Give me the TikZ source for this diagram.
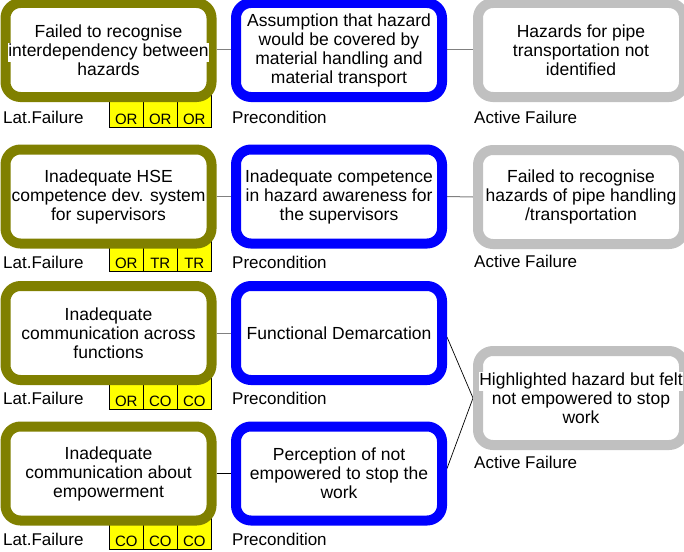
\documentclass[tikz,border=0pt]{standalone}
\usepackage{fontspec}
\setmainfont{Liberation Sans}
\usetikzlibrary{backgrounds}
\definecolor{latolive}{HTML}{808000}
\definecolor{preblue}{HTML}{0000FF}
\definecolor{actgrey}{HTML}{C0C0C0}
\definecolor{linkgrey}{HTML}{808080}
\definecolor{cellyellow}{HTML}{FFFF00}
% a text line that overhangs the frame keeps a white backing
\newcommand\wideline[1]{{\setlength{\fboxsep}{0pt}\colorbox{white}{\strut #1}}}

\begin{document}
\begin{tikzpicture}[x=1pt,y=-1pt,
  box/.style={rounded corners=15pt, line width=10pt, fill=white, align=center,
    inner sep=0pt, minimum width=206pt, minimum height=94pt,
    font=\fontsize{17.5}{19}\selectfont, text=black},
  latbox/.style={box, draw=latolive},
  prebox/.style={box, draw=preblue},
  actbox/.style={box, draw=actgrey},
  tag/.style={anchor=base west, inner sep=0pt, font=\fontsize{17}{19}\selectfont},
  cell/.style={draw=black, line width=0.6pt, fill=cellyellow, minimum width=34pt,
    minimum height=34pt, inner sep=0pt, anchor=south west, text height=28pt,
    text depth=0pt, font=\fontsize{15}{17}\selectfont},
  link/.style={draw=linkgrey, line width=1pt},
  blacklink/.style={draw=black, line width=0.7pt}]

\useasboundingbox (0,0) rectangle (684,551);
\clip (0,0) rectangle (684,551);

% classification cells under each latent failure
\node[cell] (c1a) at (109,128) {OR};
\node[cell] (c1b) at (143,128) {OR};
\node[cell] (c1c) at (177,128) {OR};
\node[cell] (c2a) at (109,272) {OR};
\node[cell] (c2b) at (143,272) {TR};
\node[cell] (c2c) at (177,272) {TR};
\node[cell] (c3a) at (109,410) {OR};
\node[cell] (c3b) at (143,410) {CO};
\node[cell] (c3c) at (177,410) {CO};
\node[cell] (c4a) at (109,550) {CO};
\node[cell] (c4b) at (143,550) {CO};
\node[cell] (c4c) at (177,550) {CO};

% latent failures
\node[latbox] (l1) at (108.5,50) {Failed to recognise\\\wideline{interdependency between}\\hazards};
\node[latbox] (l2) at (108.5,196.5) {Inadequate HSE\\\wideline{competence dev. system}\\for supervisors};
\node[latbox] (l3) at (108.5,333) {Inadequate\\communication across\\functions};
\node[latbox] (l4) at (108.5,473.5) {Inadequate\\communication about\\empowerment};

% preconditions
\node[prebox] (p1) at (339,50) {Assumption that hazard\\would be covered by\\material handling and\\material transport};
\node[prebox] (p2) at (339,196.5) {Inadequate competence\\in hazard awareness for\\the supervisors};
\node[prebox] (p3) at (339,333) {Functional Demarcation};
\node[prebox] (p4) at (339,473.5) {Perception of not\\empowered to stop the\\work};

% active failures
\node[actbox] (a1) at (581,50) {Hazards for pipe\\transportation not\\identified};
\node[actbox] (a2) at (581,197) {Failed to recognise\\hazards of pipe handling\\/transportation};
\node[actbox] (a3) at (581,398) {\wideline{Highlighted hazard but felt}\\not empowered to stop\\work};

% captions
\node[tag] (t1) at (3,123) {Lat.Failure};
\node[tag] (t2) at (3,268) {Lat.Failure};
\node[tag] (t3) at (3,404) {Lat.Failure};
\node[tag] (t4) at (3,545) {Lat.Failure};
\node[tag] (u1) at (232,123) {Precondition};
\node[tag] (u2) at (232,268) {Precondition};
\node[tag] (u3) at (232,404) {Precondition};
\node[tag] (u4) at (232,545) {Precondition};
\node[tag] (v1) at (474,123) {Active Failure};
\node[tag] (v2) at (474,267) {Active Failure};
\node[tag] (v3) at (474,468) {Active Failure};

% connectors run behind the frames
\begin{pgfonlayer}{background}
\draw[link] (l1.east) -- (p1.west);
\draw[link] (p1.east) -- (a1.west);
\draw[link] (l2.east) -- (p2.west);
\draw[link] (p2.east) -- (a2.west);
\draw[link] (l3.east) -- (p3.west);
\draw[blacklink] (l4.east) -- (p4.west);
\draw[blacklink] ([yshift=-4pt]p3.east) -- (a3.west);
\draw[blacklink] ([yshift=5pt]p4.east) -- (a3.west);
\end{pgfonlayer}
\end{tikzpicture}
\end{document}
